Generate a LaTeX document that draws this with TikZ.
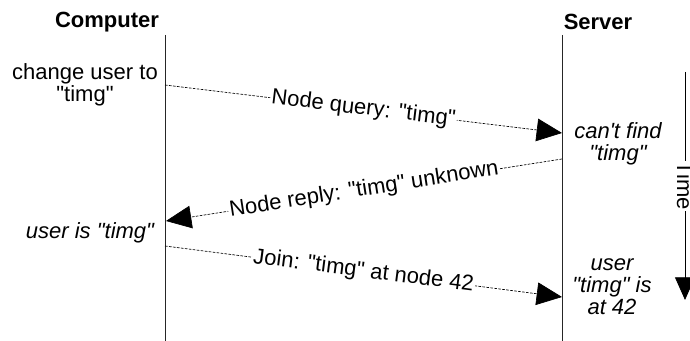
\documentclass[tikz,border=0pt]{standalone}
\usepackage{fontspec}
\newfontfamily\lsans{Liberation Sans}
\usetikzlibrary{arrows.meta,positioning}

\begin{document}
\begin{tikzpicture} [x=0.75pt,y=-0.75pt,
  every node/.style={font=\lsans\fontsize{16.5pt}{16.5pt}\selectfont},
  life/.style={line width=0.6pt,draw=black!85},
  msg/.style={-{Triangle[length=19pt,width=17pt]},dash pattern=on 2pt off 1pt,line width=0.5pt},
  lbl/.style={sloped,fill=white,inner sep=1pt},
  note/.style={align=center,font=\lsans\itshape\fontsize{16.5pt}{16.5pt}\selectfont}]

  \useasboundingbox (0,0) rectangle (690,341);

  % lifelines
  \node (comp) at (107,22) {\bfseries Computer};
  \node (serv) at (598,22) {\bfseries Server};
  \coordinate (ctop) at (165,35);
  \coordinate (cbot) at (165,341);
  \coordinate (stop) at (562,35);
  \coordinate (sbot) at (562,341);
  \draw[life] (ctop) -- (cbot);
  \draw[life] (stop) -- (sbot);

  % notes
  \node[align=center] (change) at (85,85) {change user to\\"timg"};
  \node[note] (notfound) at (618,144) {can't find\\"timg"};
  \node[note] (known) at (90,233) {user is "timg"};
  \node[note] (at42) at (612,287) {user\\"timg" is\\at 42};

  % messages
  \coordinate (q1) at (165,85);
  \coordinate (q2) at (562,133);
  \coordinate (r1) at (562,159);
  \coordinate (r2) at (166,221);
  \coordinate (j1) at (165,246);
  \coordinate (j2) at (562,297);

  \path[msg]
    (q1) edge node [lbl] {Node query: "timg"} (q2)
    (r1) edge node [lbl] {Node reply: "timg" unknown} (r2)
    (j1) edge node [lbl] {Join: "timg" at node 42} (j2);

  % time axis
  \coordinate (ttop) at (685,72);
  \coordinate (tbot) at (685,300);
  \draw[-{Triangle[length=17pt,width=15pt]},line width=0.6pt]
    (ttop) -- node [fill=white,rotate=-90,inner sep=1pt] (time) {Time} (tbot);

\end{tikzpicture}
\end{document}
